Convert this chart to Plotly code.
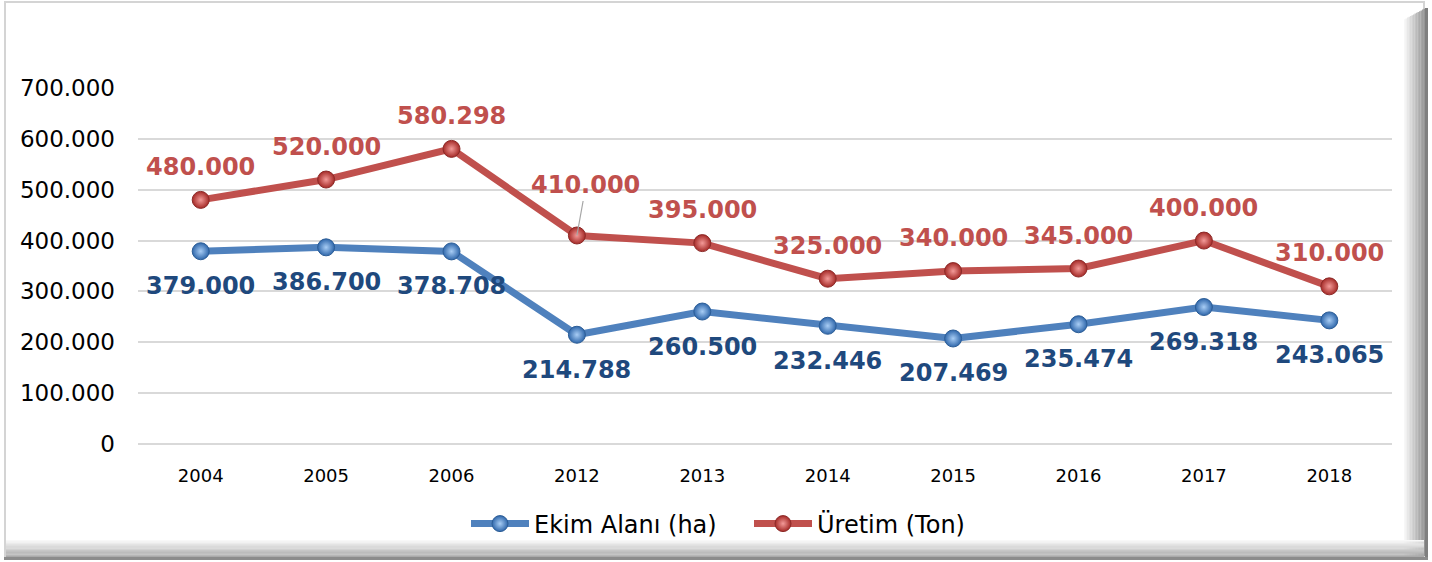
import plotly.graph_objects as go

years = ["2004", "2005", "2006", "2012", "2013", "2014", "2015", "2016", "2017", "2018"]
ekim_alani = [379000, 386700, 378708, 214788, 260500, 232446, 207469, 235474, 269318, 243065]
uretim = [480000, 520000, 580298, 410000, 395000, 325000, 340000, 345000, 400000, 310000]
y_ticks = [0, 100000, 200000, 300000, 400000, 500000, 600000, 700000]

BLUE = "#4f81bd"
BLUE_TXT = "#1f497d"
RED = "#c0504d"
RED_TXT = "#c0504d"

W, H = 1432, 562
L, R, T, B = 138, 40, 88, 118
PW, PH = W - L - R, H - T - B


def fmt(v):
    return f"{v:,}".replace(",", ".")


def px(x):
    return (x - L) / PW


def py(y):
    return (H - B - y) / PH


fig = go.Figure()
fig.add_trace(go.Scatter(
    x=years, y=ekim_alani, name="Ekim Alanı (ha)", mode="lines+markers",
    line=dict(color=BLUE, width=7),
    marker=dict(size=17, color="#2f67ab", line=dict(color="#2c5d96", width=1),
                gradient=dict(type="radial", color="#a8cdf5")),
))
fig.add_trace(go.Scatter(
    x=years, y=uretim, name="Üretim (Ton)", mode="lines+markers",
    line=dict(color=RED, width=7),
    marker=dict(size=17, color="#a52a27", line=dict(color="#8c2a28", width=1),
                gradient=dict(type="radial", color="#f39a98")),
))

annotations = []
for i, v in enumerate(uretim):
    if years[i] == "2012":
        annotations.append(dict(x=i, y=v, text=f"<b>{fmt(v)}</b>", showarrow=True,
                                ax=9, ay=-50, arrowhead=0, arrowwidth=1.2, arrowcolor="#a6a6a6",
                                font=dict(family="DejaVu Sans", size=24, color=RED_TXT)))
    else:
        annotations.append(dict(x=i, y=v, text=f"<b>{fmt(v)}</b>", showarrow=False,
                                yshift=33, font=dict(family="DejaVu Sans", size=24, color=RED_TXT)))
for i, v in enumerate(ekim_alani):
    annotations.append(dict(x=i, y=v, text=f"<b>{fmt(v)}</b>", showarrow=False,
                            yshift=-35, font=dict(family="DejaVu Sans", size=24, color=BLUE_TXT)))

shapes = []
# frame
shapes.append(dict(type="rect", xref="paper", yref="paper", x0=px(5), x1=px(1424), y0=py(557), y1=py(2),
                   line=dict(color="#d4d4d4", width=2), fillcolor="rgba(0,0,0,0)", layer="below"))
# right bevel gradient
n = 14
for k in range(n):
    g = int(255 - (255 - 150) * (k + 1) / n)
    shapes.append(dict(type="rect", xref="paper", yref="paper",
                       x0=px(1404 + k * 1.5), x1=px(1404 + (k + 1) * 1.5 + 0.2),
                       y0=py(556), y1=py(8 + (n - k) * 0.8),
                       line=dict(width=0), fillcolor=f"rgb({g},{g},{g})", layer="below"))
shapes.append(dict(type="rect", xref="paper", yref="paper", x0=px(1425), x1=px(1428), y0=py(558), y1=py(8),
                   line=dict(width=0), fillcolor="#7f7f7f", layer="below"))
# bottom bevel gradient
for k in range(n):
    g = int(255 - (255 - 170) * (k + 1) / n)
    shapes.append(dict(type="rect", xref="paper", yref="paper",
                       x0=px(6), x1=px(1424),
                       y0=py(540 + (k + 1) * 1.2 + 0.2), y1=py(540 + k * 1.2),
                       line=dict(width=0), fillcolor=f"rgb({g},{g},{g})", layer="below"))
shapes.append(dict(type="rect", xref="paper", yref="paper", x0=px(4), x1=px(1428), y0=py(560), y1=py(557),
                   line=dict(width=0), fillcolor="#8c8c8c", layer="below"))

fig.update_layout(
    width=W, height=H,
    margin=dict(l=L, r=R, t=T, b=B),
    paper_bgcolor="white", plot_bgcolor="white",
    separators=",.",
    font=dict(family="DejaVu Sans", color="#000000"),
    xaxis=dict(type="category", range=[-0.5, 9.5], showgrid=False, showline=False,
               ticks="", tickfont=dict(size=18), ticklabelstandoff=19),
    yaxis=dict(range=[0, 700000], tickvals=y_ticks, tickformat=",.0f",
               showgrid=True, gridcolor="#d9d9d9", gridwidth=1.5,
               zeroline=True, zerolinecolor="#d9d9d9", zerolinewidth=1.5,
               showline=False, ticks="", tickfont=dict(size=23), ticklabelstandoff=22),
    legend=dict(orientation="h", x=px(466), xanchor="left", y=py(524), yanchor="middle",
                font=dict(size=24), itemwidth=58, entrywidth=210, entrywidthmode="pixels",
                bgcolor="rgba(0,0,0,0)"),
    annotations=annotations,
    shapes=shapes,
    showlegend=True,
)

fig.write_html("out.html", config={"displayModeBar": False},
               post_script="document.body.style.margin='0';document.body.style.overflow='hidden';")
